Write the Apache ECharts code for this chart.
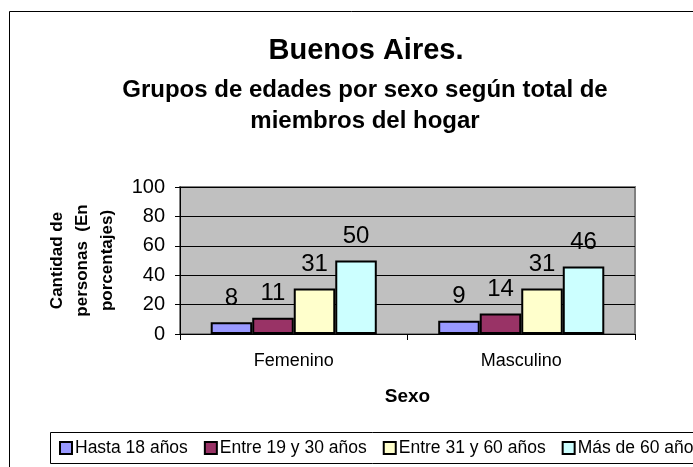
<!DOCTYPE html>
<html>
<head>
<meta charset="utf-8">
<script src="https://cdn.jsdelivr.net/npm/echarts@6/dist/echarts.min.js"></script>
<style>
  html, body { margin: 0; padding: 0; background: #fff; }
  #main { width: 693px; height: 467px; }
</style>
</head>
<body>
<div id="main"></div>
<script>
var categories = ['Femenino', 'Masculino'];
var seriesNames = ['Hasta 18 años', 'Entre 19 y 30 años', 'Entre 31 y 60 años', 'Más de 60 años'];
var hasta18 = [8, 9];
var entre19y30 = [11, 14];
var entre31y60 = [31, 31];
var mas60 = [50, 46];
var colors = ['#9999FF', '#993366', '#FFFFCC', '#CCFFFF'];

var font = 'Liberation Sans, Arial, sans-serif';
var chart = echarts.init(document.getElementById('main'));

var values = [hasta18, entre19y30, entre31y60, mas60];
var series = values.map(function (v, i) {
  return {
    name: seriesNames[i],
    type: 'bar',
    data: v,
    barGap: 0,
    barCategoryGap: '27%',
    itemStyle: { color: colors[i], borderColor: '#000', borderWidth: 2 },
    label: {
      show: true,
      position: 'top',
      distance: 12,
      color: '#000',
      fontSize: 24,
      fontFamily: font
    }
  };
});

var titleStyle = { fontFamily: font, fontWeight: 'bold', color: '#000' };

var option = {
  backgroundColor: '#fff',
  animation: false,
  title: [
    {
      text: 'Buenos Aires.',
      left: 361,
      textAlign: 'center',
      top: 31,
      textStyle: Object.assign({ fontSize: 29 }, titleStyle)
    },
    {
      text: 'Grupos de edades por sexo según total de',
      left: 360,
      textAlign: 'center',
      top: 73,
      textStyle: Object.assign({ fontSize: 24 }, titleStyle)
    },
    {
      text: 'miembros del hogar',
      left: 360,
      textAlign: 'center',
      top: 104,
      textStyle: Object.assign({ fontSize: 24 }, titleStyle)
    }
  ],
  graphic: [
    {
      type: 'rect',
      shape: { x: 9.5, y: 11.5, width: 720, height: 480 },
      style: { fill: 'none', stroke: '#000', lineWidth: 1 },
      silent: true
    },
    {
      type: 'rect',
      shape: { x: 50.5, y: 432.5, width: 700, height: 31 },
      style: { fill: 'none', stroke: '#000', lineWidth: 1 },
      silent: true
    }
  ],
  legend: {
    data: seriesNames,
    left: 59,
    top: 439,
    width: 900,
    padding: 0,
    itemWidth: 12,
    itemHeight: 12,
    itemGap: 16,
    icon: 'rect',
    itemStyle: { borderColor: '#000', borderWidth: 2 },
    textStyle: { fontFamily: font, fontSize: 17.5, color: '#000', padding: [0, 0, 0, -2] }
  },
  grid: {
    left: 180,
    right: 58,
    top: 187,
    bottom: 133,
    show: true,
    backgroundColor: '#C0C0C0',
    borderColor: '#808080',
    borderWidth: 2,
    containLabel: false
  },
  xAxis: {
    type: 'category',
    data: categories,
    name: 'Sexo',
    nameLocation: 'middle',
    nameGap: 53,
    nameTextStyle: { fontFamily: font, fontSize: 19, fontWeight: 'bold', color: '#000' },
    axisLine: { lineStyle: { color: '#000', width: 1 } },
    axisTick: { show: true, length: 6, lineStyle: { color: '#000' } },
    axisLabel: { fontFamily: font, fontSize: 18, color: '#000', margin: 18 }
  },
  yAxis: {
    type: 'value',
    min: 0,
    max: 100,
    interval: 20,
    name: 'Cantidad de\npersonas  (En\nporcentajes)',
    nameLocation: 'middle',
    nameGap: 60,
    nameTextStyle: { fontFamily: font, fontSize: 17, fontWeight: 'bold', color: '#000', lineHeight: 25, align: 'center' },
    axisLine: { show: true, lineStyle: { color: '#000', width: 1 } },
    axisTick: { show: true, length: 5, lineStyle: { color: '#000' } },
    axisLabel: { fontFamily: font, fontSize: 20, color: '#000', margin: 15 },
    splitLine: { show: true, lineStyle: { color: '#000', width: 1 } }
  },
  series: series
};

chart.setOption(option);
</script>
</body>
</html>
